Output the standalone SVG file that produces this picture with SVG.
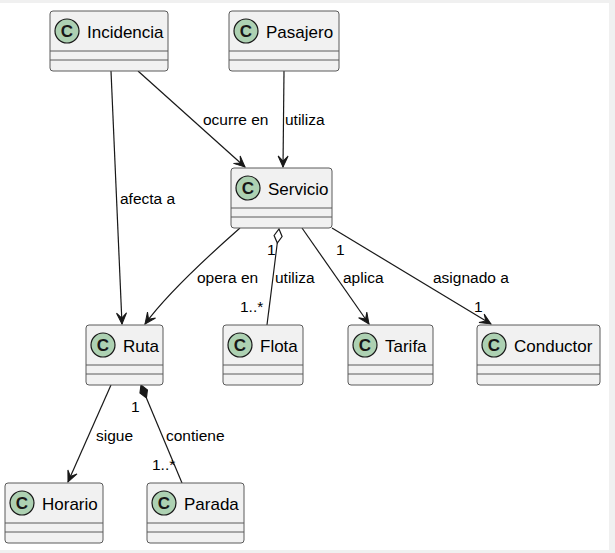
<svg xmlns="http://www.w3.org/2000/svg" width="615" height="553" viewBox="0 0 615 553">
<style>
.box{fill:#F1F1F1;stroke:#5a5a5a;stroke-width:1}
.sep{stroke:#5a5a5a;stroke-width:1}
.spot{fill:#ADD1B2;stroke:#181818;stroke-width:1.2}
.spotc{font-family:"Liberation Sans",Arial,sans-serif;font-size:17px;font-weight:bold;fill:#181818;text-anchor:middle}
.name{font-family:"Liberation Sans",Arial,sans-serif;font-size:17px;fill:#000}
.lbl{font-family:"Liberation Sans",Arial,sans-serif;font-size:15.5px;fill:#000}
.edge{fill:none;stroke:#181818;stroke-width:1.2}
</style>
<defs>
<marker id="arr" viewBox="-12 -6 13 12" markerWidth="13" markerHeight="12" refX="0" refY="0" orient="auto" markerUnits="userSpaceOnUse">
<path d="M0,0 L-11,-5 L-6,0 L-11,5 Z" fill="#181818" stroke="#181818" stroke-width="1"/>
</marker>
</defs>
<rect x="0" y="0" width="615" height="553" fill="#F0F0F0"/>
<rect x="0" y="3" width="609" height="547" fill="#FFFFFF"/>

<g id="connectors">
<path class="edge" d="M111,71 L122,324" marker-end="url(#arr)"/>
<path class="edge" d="M138,71 L245,167" marker-end="url(#arr)"/>
<path class="edge" d="M284,71 L283,167" marker-end="url(#arr)"/>
<path class="edge" d="M240,228 C215,250 170,290 145,324" marker-end="url(#arr)"/>
<polygon points="279,229 282.1,236.5 277.3,243 274.1,235.5" fill="#FFFFFF" stroke="#181818" stroke-width="1.2"/>
<path class="edge" d="M277.3,243 L267,325"/>
<path class="edge" d="M302,228 L369,324" marker-end="url(#arr)"/>
<path class="edge" d="M332,228 L491,324" marker-end="url(#arr)"/>
<path class="edge" d="M111,385 L68,482" marker-end="url(#arr)"/>
<polygon points="141,385 147.4,390 146.4,398 140,393" fill="#181818" stroke="#181818" stroke-width="1.2"/>
<path class="edge" d="M146.4,398 L182,483"/>
<text class="lbl" x="120" y="204">afecta a</text>
<text class="lbl" x="203" y="125">ocurre en</text>
<text class="lbl" x="285" y="125">utiliza</text>
<text class="lbl" x="197" y="283">opera en</text>
<text class="lbl" x="267" y="255">1</text>
<text class="lbl" x="275" y="283">utiliza</text>
<text class="lbl" x="240" y="312">1..*</text>
<text class="lbl" x="343" y="283">aplica</text>
<text class="lbl" x="336" y="255">1</text>
<text class="lbl" x="433" y="283">asignado a</text>
<text class="lbl" x="474" y="312">1</text>
<text class="lbl" x="96" y="441">sigue</text>
<text class="lbl" x="131" y="412">1</text>
<text class="lbl" x="166" y="441">contiene</text>
<text class="lbl" x="152" y="470">1..*</text>
</g>

<g id="Incidencia">
<rect class="box" x="50" y="11" width="118" height="60" rx="3"/>
<line class="sep" x1="50" y1="51" x2="168" y2="51"/><line class="sep" x1="50" y1="60" x2="168" y2="60"/>
<circle class="spot" cx="67" cy="31" r="12"/><text class="spotc" x="67" y="37">C</text>
<text class="name" x="87" y="38">Incidencia</text>
</g>
<g id="Pasajero">
<rect class="box" x="229" y="11" width="110" height="60" rx="3"/>
<line class="sep" x1="229" y1="51" x2="339" y2="51"/><line class="sep" x1="229" y1="60" x2="339" y2="60"/>
<circle class="spot" cx="246" cy="31" r="12"/><text class="spotc" x="246" y="37">C</text>
<text class="name" x="266" y="38">Pasajero</text>
</g>
<g id="Servicio">
<rect class="box" x="231" y="168" width="101" height="60" rx="3"/>
<line class="sep" x1="231" y1="208" x2="332" y2="208"/><line class="sep" x1="231" y1="217" x2="332" y2="217"/>
<circle class="spot" cx="248" cy="188" r="12"/><text class="spotc" x="248" y="194">C</text>
<text class="name" x="268" y="195">Servicio</text>
</g>
<g id="Ruta">
<rect class="box" x="86" y="325" width="77" height="60" rx="3"/>
<line class="sep" x1="86" y1="365" x2="163" y2="365"/><line class="sep" x1="86" y1="374" x2="163" y2="374"/>
<circle class="spot" cx="103" cy="345" r="12"/><text class="spotc" x="103" y="351">C</text>
<text class="name" x="123" y="352">Ruta</text>
</g>
<g id="Flota">
<rect class="box" x="223" y="325" width="80" height="60" rx="3"/>
<line class="sep" x1="223" y1="365" x2="303" y2="365"/><line class="sep" x1="223" y1="374" x2="303" y2="374"/>
<circle class="spot" cx="240" cy="345" r="12"/><text class="spotc" x="240" y="351">C</text>
<text class="name" x="260" y="352">Flota</text>
</g>
<g id="Tarifa">
<rect class="box" x="348" y="325" width="85" height="60" rx="3"/>
<line class="sep" x1="348" y1="365" x2="433" y2="365"/><line class="sep" x1="348" y1="374" x2="433" y2="374"/>
<circle class="spot" cx="365" cy="345" r="12"/><text class="spotc" x="365" y="351">C</text>
<text class="name" x="385" y="352">Tarifa</text>
</g>
<g id="Conductor">
<rect class="box" x="477" y="325" width="123" height="60" rx="3"/>
<line class="sep" x1="477" y1="365" x2="600" y2="365"/><line class="sep" x1="477" y1="374" x2="600" y2="374"/>
<circle class="spot" cx="494" cy="345" r="12"/><text class="spotc" x="494" y="351">C</text>
<text class="name" x="514" y="352">Conductor</text>
</g>
<g id="Horario">
<rect class="box" x="5" y="483" width="98" height="60" rx="3"/>
<line class="sep" x1="5" y1="523" x2="103" y2="523"/><line class="sep" x1="5" y1="532" x2="103" y2="532"/>
<circle class="spot" cx="22" cy="503" r="12"/><text class="spotc" x="22" y="509">C</text>
<text class="name" x="42" y="510">Horario</text>
</g>
<g id="Parada">
<rect class="box" x="147" y="483" width="97" height="60" rx="3"/>
<line class="sep" x1="147" y1="523" x2="244" y2="523"/><line class="sep" x1="147" y1="532" x2="244" y2="532"/>
<circle class="spot" cx="164" cy="503" r="12"/><text class="spotc" x="164" y="509">C</text>
<text class="name" x="184" y="510">Parada</text>
</g>
</svg>
